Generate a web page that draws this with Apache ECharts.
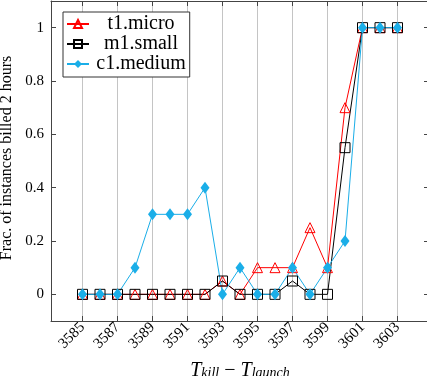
<!DOCTYPE html>
<html>
<head>
<meta charset="utf-8">
<script src="https://cdn.jsdelivr.net/npm/echarts@6/dist/echarts.min.js"></script>
<style>
  html, body { margin: 0; padding: 0; background: #fff; }
  #chart { width: 427px; height: 376px; }
</style>
</head>
<body>
<div id="chart"></div>
<script>
// T_kill - T_launch (seconds)
const killTimes = [3585, 3586, 3587, 3588, 3589, 3590, 3591, 3592, 3593, 3594,
                   3595, 3596, 3597, 3598, 3599, 3600, 3601, 3602, 3603];
const t1Micro  = [0, 0, 0, 0, 0, 0, 0, 0, 0.05, 0, 0.1, 0.1, 0.1, 0.25, 0.1, 0.7, 1, 1, 1];
const m1Small  = [0, 0, 0, 0, 0, 0, 0, 0, 0.05, 0, 0, 0, 0.05, 0, 0, 0.55, 1, 1, 1];
const c1Medium = [0, 0, 0, 0.1, 0.3, 0.3, 0.3, 0.4, 0, 0.1, 0, 0, 0.1, 0, 0.1, 0.2, 1, 1, 1];

const xTicks = [3585, 3587, 3589, 3591, 3593, 3595, 3597, 3599, 3601, 3603];
const yTicks = [0, 0.2, 0.4, 0.6, 0.8, 1];

const SERIF = '"Liberation Serif", "DejaVu Serif", serif';
const AXIS_COLOR = '#444';
const RED = '#ff0000';
const BLUE = '#1aaee8';

const X_MIN = 3583.2, X_MAX = 3604.8;
const Y_MIN = -0.1, Y_MAX = 1.1;

function pairs(values) {
  return killTimes.map((x, i) => [x, values[i]]);
}

const chart = echarts.init(document.getElementById('chart'), null, { renderer: 'canvas' });

// pgfplots-like box: axis lines on all four sides, ticks pointing inward
const frameAxis = {
  axisLine: { show: true, onZero: false, lineStyle: { color: AXIS_COLOR, width: 1 } },
  axisTick: { show: true, inside: true, length: 5, lineStyle: { color: AXIS_COLOR } },
};

chart.setOption({
  animation: false,
  backgroundColor: '#fff',
  textStyle: { fontFamily: SERIF },
  grid: { left: 51, top: 1, width: 378, height: 320, containLabel: false, outerBoundsMode: 'none' },
  legend: {
    orient: 'vertical',
    left: 63,
    top: 12,
    padding: [2, 4, 3, 3],
    itemGap: 0,
    itemWidth: 22,
    itemHeight: 10,
    borderColor: '#333',
    borderWidth: 1,
    backgroundColor: '#fff',
    formatter: (name) => '{a|' + name + '}',
    textStyle: {
      color: '#000',
      fontFamily: SERIF,
      fontSize: 20,
      rich: { a: { width: 94, align: 'center', fontSize: 20, fontFamily: SERIF, color: '#000' } },
    },
    data: ['t1.micro', 'm1.small', 'c1.medium'],
  },
  xAxis: [
    Object.assign({}, frameAxis, {
      type: 'value',
      position: 'bottom',
      min: X_MIN,
      max: X_MAX,
      axisTick: Object.assign({}, frameAxis.axisTick, { customValues: xTicks }),
      axisLabel: {
        customValues: xTicks,
        rotate: 45,
        margin: 4,
        color: '#000',
        fontFamily: SERIF,
        fontSize: 15,
        formatter: (v) => String(v),
      },
      splitLine: { show: true, lineStyle: { color: '#c4c4c4', width: 1 } },
      name: '{t|T}{s|kill}{m| − }{t|T}{s|launch}',
      nameLocation: 'middle',
      nameGap: 40,
      nameTextStyle: {
        rich: {
          t: { fontFamily: SERIF, fontStyle: 'italic', fontSize: 20, color: '#000', padding: [0, 0, 5, 0] },
          s: { fontFamily: SERIF, fontStyle: 'italic', fontSize: 14, color: '#000' },
          m: { fontFamily: SERIF, fontSize: 20, color: '#000', padding: [0, 0, 5, 0] },
        },
      },
    }),
    Object.assign({}, frameAxis, {
      type: 'value',
      position: 'top',
      min: X_MIN,
      max: X_MAX,
      axisTick: Object.assign({}, frameAxis.axisTick, { customValues: xTicks }),
      axisLabel: { show: false },
      splitLine: { show: false },
    }),
  ],
  yAxis: [
    Object.assign({}, frameAxis, {
      type: 'value',
      position: 'left',
      min: Y_MIN,
      max: Y_MAX,
      axisTick: Object.assign({}, frameAxis.axisTick, { customValues: yTicks }),
      axisLabel: {
        customValues: yTicks,
        margin: 7,
        color: '#000',
        fontFamily: SERIF,
        fontSize: 15,
        formatter: (v) => String(v),
      },
      splitLine: { show: false },
      name: 'Frac. of instances billed 2 hours',
      nameLocation: 'middle',
      nameRotate: 90,
      nameGap: 26,
      nameTextStyle: { fontFamily: SERIF, fontSize: 16, color: '#000', padding: [0, 0, 0, 6] },
    }),
    Object.assign({}, frameAxis, {
      type: 'value',
      position: 'right',
      min: Y_MIN,
      max: Y_MAX,
      axisTick: Object.assign({}, frameAxis.axisTick, { customValues: yTicks }),
      axisLabel: { show: false },
      splitLine: { show: false },
    }),
  ],
  series: [
    {
      name: 't1.micro',
      type: 'line',
      data: pairs(t1Micro),
      symbol: 'triangle',
      symbolSize: 10,
      lineStyle: { color: RED, width: 1 },
      itemStyle: { color: 'rgba(255,255,255,0)', borderColor: RED, borderWidth: 1 },
    },
    {
      name: 'm1.small',
      type: 'line',
      data: pairs(m1Small),
      symbol: 'rect',
      symbolSize: 10,
      lineStyle: { color: '#000', width: 1 },
      itemStyle: { color: 'rgba(255,255,255,0)', borderColor: '#000', borderWidth: 1 },
    },
    {
      name: 'c1.medium',
      type: 'line',
      data: pairs(c1Medium),
      symbol: 'diamond',
      symbolSize: [9, 12],
      lineStyle: { color: BLUE, width: 1 },
      itemStyle: { color: BLUE, borderColor: BLUE, borderWidth: 0 },
    },
  ],
});
</script>
</body>
</html>
